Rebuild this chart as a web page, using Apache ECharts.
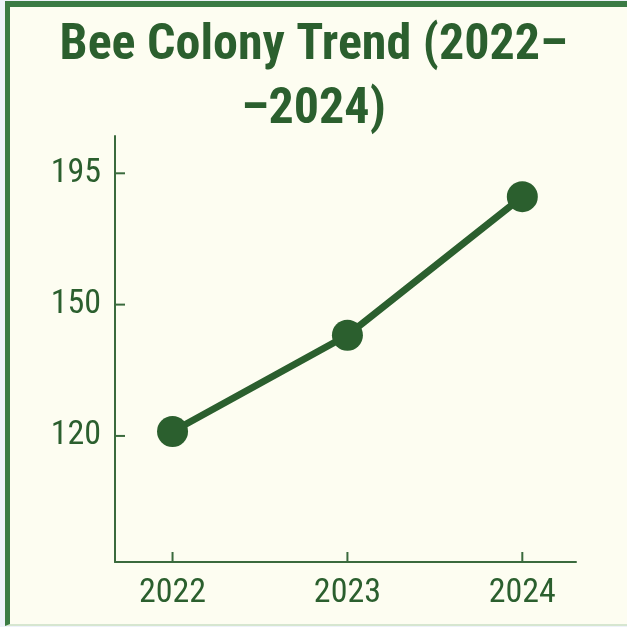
<!DOCTYPE html>
<html>
<head>
<meta charset="utf-8">
<title>Bee Colony Trend</title>
<script src="https://cdn.jsdelivr.net/npm/echarts@6/dist/echarts.min.js"></script>
<style>
    html, body {
        margin: 0;
        padding: 0;
        width: 627px;
        height: 627px;
        background: #eef2fa;
        overflow: hidden;
    }
    .frame {
        position: absolute;
        left: 5px;
        top: 1px;
        width: 622px;
        height: 625px;
        box-sizing: border-box;
        background: #fdfdf1;
        border-left: 5px solid #3b7b44;
        border-top: 6px solid #3b7b44;
        border-bottom: 2px solid #d6e6d0;
    }
    #chart {
        position: absolute;
        left: 0;
        top: 0;
        width: 627px;
        height: 627px;
    }
</style>
</head>
<body>
<div class="frame"></div>
<div id="chart"></div>
<script>
// data
const years = [2022, 2023, 2024]
const colonies = [121, 143, 187]
const yTickLabels = [120, 150, 195]

const green = '#2b5f2e'
const axisGreen = '#3a6a3d'
const font = '"Liberation Sans Narrow", "Roboto Condensed", "DejaVu Sans Condensed", "Liberation Sans", sans-serif'

const xRange = { min: 2021.671, max: 2024.307 }
const yRange = { min: -0.96, max: 2.284 }
const yTickPos = [0, 1, 2]
const TICK = 10

// the tick labels are evenly spaced but not evenly valued,
// so the y axis runs in tick-index units (piecewise linear between labels)
const toIndex = (v) => {
    const t = yTickLabels
    let i = 0
    if (v > t[1]) i = 1
    return i + (v - t[i]) / (t[i + 1] - t[i])
}

const lineStyle = { stroke: axisGreen, lineWidth: 2 }

const chart = echarts.init(document.getElementById('chart'))

const option = {
    backgroundColor: 'transparent',
    animation: false,
    title: {
        text: 'Bee Colony Trend (2022–\n–2024)',
        left: 'center',
        top: 9,
        textStyle: {
            color: green,
            fontFamily: font,
            fontWeight: 'bold',
            fontSize: 50,
            lineHeight: 64
        }
    },
    grid: { left: 115, right: 51, top: 136, bottom: 65 },
    xAxis: {
        type: 'value',
        ...xRange,
        splitLine: { show: false },
        axisLine: { onZero: false, lineStyle: { color: axisGreen, width: 2 } },
        axisTick: { show: false },
        axisLabel: {
            customValues: years,
            color: green,
            fontFamily: font,
            fontSize: 34,
            margin: 14,
            formatter: (v) => String(v)
        }
    },
    yAxis: {
        type: 'value',
        ...yRange,
        splitLine: { show: false },
        axisLine: { show: true, onZero: false, lineStyle: { color: axisGreen, width: 2 } },
        axisTick: { show: false },
        axisLabel: {
            customValues: yTickPos,
            color: green,
            fontFamily: font,
            fontSize: 34,
            margin: 14,
            formatter: (v) => String(yTickLabels[Math.round(v)])
        }
    },
    series: [
        {
            // inward ticks on the x axis
            type: 'custom',
            silent: true,
            clip: false,
            data: years,
            renderItem: (params, api) => {
                const p = api.coord([api.value(0), yRange.min])
                return {
                    type: 'line',
                    shape: { x1: p[0], y1: p[1], x2: p[0], y2: p[1] - TICK },
                    style: lineStyle
                }
            }
        },
        {
            // inward ticks on the y axis
            type: 'custom',
            silent: true,
            clip: false,
            data: yTickPos.map((v) => [xRange.min, v]),
            renderItem: (params, api) => {
                const p = api.coord([api.value(0), api.value(1)])
                return {
                    type: 'line',
                    shape: { x1: p[0], y1: p[1], x2: p[0] + TICK, y2: p[1] },
                    style: lineStyle
                }
            }
        },
        {
            type: 'line',
            data: years.map((y, i) => [y, toIndex(colonies[i])]),
            symbol: 'circle',
            symbolSize: 31,
            lineStyle: { color: green, width: 7 },
            itemStyle: { color: green }
        }
    ]
}

chart.setOption(option)
</script>
</body>
</html>
